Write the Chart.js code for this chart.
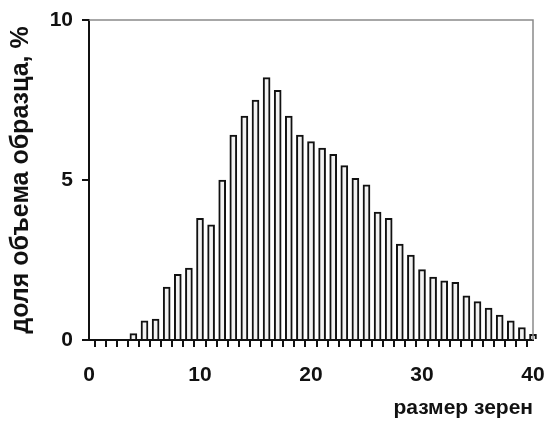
<!DOCTYPE html>
<html>
<head>
<meta charset="utf-8">
<script src="https://cdn.jsdelivr.net/npm/chart.js@4/dist/chart.umd.min.js"></script>
<style>
  html, body { margin: 0; padding: 0; background: #fff; }
  #wrap { width: 545px; height: 421px; }
</style>
</head>
<body>
<div id="wrap"><canvas id="grain-chart"></canvas></div>
<script>
// размер зерен (grain size) and volume share, %
var sizes = [4, 5, 6, 7, 8, 9, 10, 11, 12, 13, 14, 15, 16, 17, 18, 19, 20, 21, 22,
  23, 24, 25, 26, 27, 28, 29, 30, 31, 32, 33, 34, 35, 36, 37, 38, 39, 40];
var shares = [0.2, 0.6, 0.65, 1.65, 2.05, 2.25, 3.8, 3.6, 5.0, 6.4, 7.0, 7.5, 8.2, 7.8, 7.0, 6.4, 6.2, 6.0,
  5.8, 5.45, 5.05, 4.85, 4.0, 3.8, 3.0, 2.65, 2.2, 1.97, 1.85, 1.8, 1.38, 1.2, 1.0, 0.78, 0.6, 0.39, 0.18];
var yTicks = [0, 5, 10];
var xLabels = [0, 10, 20, 30, 40];

var points = sizes.map(function (s, i) { return {x: s, y: shares[i]}; });

var frame = {
  id: 'frame',
  afterDraw: function (chart) {
    var a = chart.chartArea, ctx = chart.ctx;
    ctx.save();
    ctx.strokeStyle = '#8a8a8a';
    ctx.lineWidth = 1.5;
    ctx.beginPath();
    ctx.moveTo(a.left, a.top);
    ctx.lineTo(a.right, a.top);
    ctx.lineTo(a.right, a.bottom);
    ctx.stroke();
    ctx.restore();
  }
};

var ctx = document.getElementById('grain-chart').getContext('2d');
new Chart(ctx, {
  type: 'bar',
  data: {
    datasets: [{
      data: points,
      backgroundColor: '#f2f2f2',
      borderColor: '#111',
      borderWidth: 2,
      barThickness: 7,
      clip: false
    }]
  },
  options: {
    responsive: true,
    maintainAspectRatio: false,
    animation: false,
    layout: {padding: {left: 6, right: 12, top: 20, bottom: 0}},
    plugins: {legend: {display: false}, tooltip: {enabled: false}},
    scales: {
      x: {
        type: 'linear',
        min: 0,
        max: 40,
        offset: false,
        border: {display: true, color: '#111', width: 2},
        grid: {drawOnChartArea: false, drawTicks: true, tickLength: 7, color: '#111', lineWidth: 2},
        ticks: {
          stepSize: 1,
          autoSkip: false,
          maxTicksLimit: 100,
          maxRotation: 0,
          padding: 16,
          color: '#111',
          font: {family: 'Liberation Sans, Arial', size: 21, weight: 'bold'},
          callback: function (v) { return xLabels.indexOf(v) >= 0 ? String(v) : ''; }
        },
        title: {
          display: true,
          text: 'размер зерен',
          align: 'end',
          color: '#111',
          padding: {top: 0, bottom: 0},
          font: {family: 'Liberation Sans, Arial', size: 21, weight: 'bold'}
        },
        afterFit: function (axis) {
          axis.height = 81;
          axis.paddingLeft = 0;
          axis.paddingRight = 0;
        }
      },
      y: {
        min: 0,
        max: 10,
        border: {display: true, color: '#111', width: 2},
        grid: {drawOnChartArea: false, drawTicks: true, tickLength: 7, color: '#111', lineWidth: 2},
        afterBuildTicks: function (axis) { axis.ticks = yTicks.map(function (v) { return {value: v}; }); },
        ticks: {
          padding: 9,
          color: '#111',
          font: {family: 'Liberation Sans, Arial', size: 21, weight: 'bold'}
        },
        title: {
          display: true,
          text: 'доля объема образца, %',
          color: '#111',
          padding: {top: 0, bottom: 0},
          font: {family: 'Liberation Sans, Arial', size: 25, weight: 'bold'}
        },
        afterFit: function (axis) {
          axis.width = 83;
          axis.paddingTop = 0;
          axis.paddingBottom = 0;
        }
      }
    }
  },
  plugins: [frame]
});
</script>
</body>
</html>
